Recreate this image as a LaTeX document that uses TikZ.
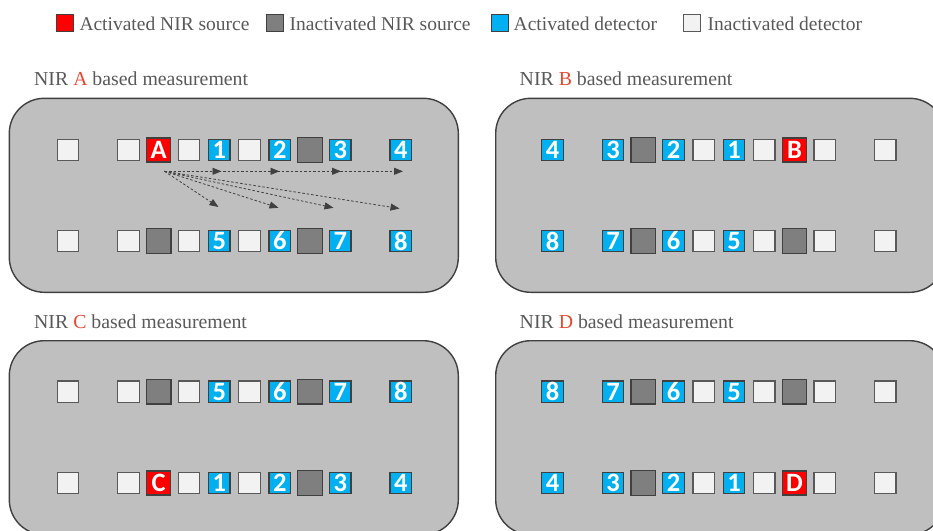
\documentclass[tikz,border=0pt]{standalone}
\usepackage{fontspec}
\setmainfont{Liberation Serif}
\newfontfamily\numfont{Carlito}
\usetikzlibrary{arrows.meta}
\definecolor{panelfill}{HTML}{BFBFBF}
\definecolor{edgedark}{HTML}{404040}
\definecolor{edgegray}{HTML}{595959}
\definecolor{lightfill}{HTML}{F2F2F2}
\definecolor{bluefill}{HTML}{00B0F0}
\definecolor{darkfill}{HTML}{7F7F7F}
\definecolor{redfill}{HTML}{FF0000}
\definecolor{txtgray}{HTML}{595959}
\definecolor{titlered}{HTML}{E8472F}
\newcommand\sqrow[5]{%
  \foreach \i/\s/\t in {#5}{\node[\s] (#1#2-\i) at ({#3+30.25*\i},#4) {\t};}}
\begin{document}
\begin{tikzpicture}[x=1pt,y=-1pt,
  panel/.style={draw=edgedark,line width=1.4pt,fill=panelfill,rounded corners=35pt},
  sqbase/.style={rectangle,inner sep=0pt,font=\numfont\bfseries\fontsize{26.5}{26.5}\selectfont,text=white},
  lt/.style={sqbase,minimum size=21.5pt,fill=lightfill,draw=edgegray,line width=1.4pt},
  bl/.style={sqbase,minimum size=21.5pt,fill=bluefill,draw=edgedark,line width=1.2pt},
  dk/.style={sqbase,minimum size=24.5pt,fill=darkfill,draw=edgedark,line width=1.4pt},
  rd/.style={sqbase,minimum size=24pt,fill=redfill,draw=edgedark,line width=1.2pt},
  title/.style={anchor=base west,inner sep=0pt,text=txtgray,font=\fontsize{19.8}{20}\selectfont},
  legsq/.style={rectangle,inner sep=0pt,minimum size=17pt,line width=1pt},
  legtxt/.style={anchor=base west,inner sep=0pt,text=txtgray,font=\fontsize{19.5}{20}\selectfont},
  arr/.style={draw=edgedark,line width=0.8pt,dash pattern=on 2.5pt off 2pt,-{Triangle[length=9pt,width=7pt]}}
]
\useasboundingbox (0,0) rectangle (933,530);
\clip (0,0) rectangle (933,530);
\fill[white] (0,0) rectangle (933,530);

% legend
\node[legsq,fill=redfill,draw=edgedark] (lg1) at (64.5,22.5) {};
\node[legtxt] (lt1) at (79.3,30.5) {Activated NIR source};
\node[legsq,fill=darkfill,draw=edgedark] (lg2) at (274.5,22.5) {};
\node[legtxt] (lt2) at (289.5,30.5) {Inactivated NIR source};
\node[legsq,fill=bluefill,draw=edgedark] (lg3) at (499.5,22.5) {};
\node[legtxt] (lt3) at (513.5,30.5) {Activated detector};
\node[legsq,fill=lightfill,draw=edgegray] (lg4) at (692,22.5) {};
\node[legtxt] (lt4) at (707.5,30.5) {Inactivated detector};

% titles
\node[title] (tA) at (34,85) {NIR \textcolor{titlered}{A} based measurement};
\node[title] (tB) at (519.5,85) {NIR \textcolor{titlered}{B} based measurement};
\node[title] (tC) at (34,328) {NIR \textcolor{titlered}{C} based measurement};
\node[title] (tD) at (519.5,328) {NIR \textcolor{titlered}{D} based measurement};

% panels
\draw[panel] (9.3,98.3) rectangle (458.3,292.3);
\draw[panel] (495.7,98.3) rectangle (944.7,292.3);
\draw[panel] (9.3,340.7) rectangle (458.3,534.7);
\draw[panel] (495.7,340.7) rectangle (944.7,534.7);

% panel A
\sqrow{A}{1}{68}{150}{0/lt/,2/lt/,3/rd/A,4/lt/,5/bl/1,6/lt/,7/bl/2,8/dk/,9/bl/3,11/bl/4}
\sqrow{A}{2}{68}{241}{0/lt/,2/lt/,3/dk/,4/lt/,5/bl/5,6/lt/,7/bl/6,8/dk/,9/bl/7,11/bl/8}
% panel B
\sqrow{B}{1}{552.5}{150}{0/bl/4,2/bl/3,3/dk/,4/bl/2,5/lt/,6/bl/1,7/lt/,8/rd/B,9/lt/,11/lt/}
\sqrow{B}{2}{552.5}{241}{0/bl/8,2/bl/7,3/dk/,4/bl/6,5/lt/,6/bl/5,7/lt/,8/dk/,9/lt/,11/lt/}
% panel C
\sqrow{C}{1}{68}{391.7}{0/lt/,2/lt/,3/dk/,4/lt/,5/bl/5,6/lt/,7/bl/6,8/dk/,9/bl/7,11/bl/8}
\sqrow{C}{2}{68}{483}{0/lt/,2/lt/,3/rd/C,4/lt/,5/bl/1,6/lt/,7/bl/2,8/dk/,9/bl/3,11/bl/4}
% panel D
\sqrow{D}{1}{552.5}{391.7}{0/bl/8,2/bl/7,3/dk/,4/bl/6,5/lt/,6/bl/5,7/lt/,8/dk/,9/lt/,11/lt/}
\sqrow{D}{2}{552.5}{483}{0/bl/4,2/bl/3,3/dk/,4/bl/2,5/lt/,6/bl/1,7/lt/,8/rd/D,9/lt/,11/lt/}

% arrows in panel A
\coordinate (src) at (164.5,171.3);
\coordinate (h1) at (221.5,171.3);
\coordinate (h2) at (279.5,171.3);
\coordinate (h3) at (341,171.3);
\coordinate (h4) at (403,171.3);
\coordinate (d1) at (218.5,207);
\coordinate (d2) at (278.5,207.8);
\coordinate (d3) at (333.5,207.8);
\coordinate (d4) at (399.5,208.5);
\foreach \t in {h4,h3,h2,h1,d1,d2,d3,d4}{\draw[arr] (src) -- (\t);}
\end{tikzpicture}
\end{document}
